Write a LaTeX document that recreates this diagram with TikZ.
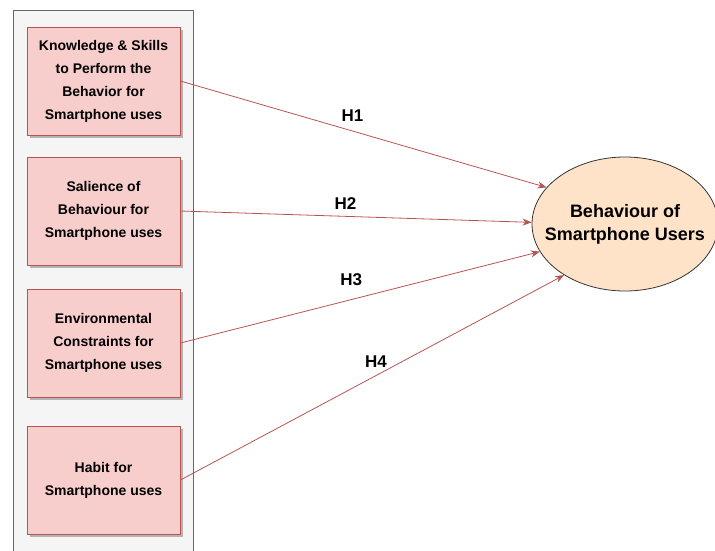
\documentclass[tikz,border=0pt]{standalone}
\usepackage{fontspec}
\setmainfont{Liberation Sans}
\usetikzlibrary{shapes.geometric,shadows,arrows.meta}
\definecolor{boxfill}{HTML}{F8CECC}
\definecolor{boxline}{HTML}{B85450}
\definecolor{panelfill}{HTML}{F5F5F5}
\definecolor{panelline}{HTML}{666666}
\definecolor{ovalfill}{HTML}{FFE3C8}
\tikzset{
  factor/.style={draw=boxline, fill=boxfill, minimum width=153pt, minimum height=108pt,
    align=center, font=\bfseries\fontsize{14}{23}\selectfont,
    drop shadow={shadow xshift=3pt, shadow yshift=-3pt, opacity=.45, fill=black!60}},
  outcome/.style={draw=black!80, fill=ovalfill, ellipse, minimum width=186pt, minimum height=134pt,
    inner xsep=-30pt, inner ysep=0pt, align=center, font=\bfseries\fontsize{18}{23}\selectfont},
  link/.style={draw=boxline, -{Stealth[length=9pt,width=7pt]}},
  hyp/.style={font=\bfseries\fontsize{17}{19}\selectfont, fill=white, inner sep=1.5pt},
}
\begin{document}
\begin{tikzpicture}[x=1pt, y=1pt, line width=0.8pt]
  \useasboundingbox (0,0) rectangle (715,-550);
  % grey panel behind the four factors
  \draw[panelline, fill=panelfill] (13,-10) rectangle (193,-560);

  \node[factor] (know)  at (103.5,-81)  {Knowledge \& Skills\\to Perform the\\Behavior for\\Smartphone uses};
  \node[factor] (sal)   at (103.5,-211) {Salience of\\Behaviour for\\Smartphone uses};
  \node[factor] (env)   at (103.5,-343) {Environmental\\Constraints for\\Smartphone uses};
  \node[factor] (habit) at (103.5,-480) {Habit for\\Smartphone uses};

  \node[outcome] (user) at (625,-224) {Behaviour of\\Smartphone Users};

  % hypotheses
  \draw[link] (know.east)  -- node[hyp, pos=.47, yshift=15pt] {H1} (user.155);
  \draw[link] (sal.east)   -- node[hyp, pos=.47, yshift=13pt] {H2} (user.179);
  \draw[link] (env.east)   -- node[hyp, pos=.475, yshift=20pt] {H3} (user.198);
  \draw[link] (habit.east) -- node[hyp, pos=.51, yshift=14pt] {H4} (user.220);
\end{tikzpicture}
\end{document}
